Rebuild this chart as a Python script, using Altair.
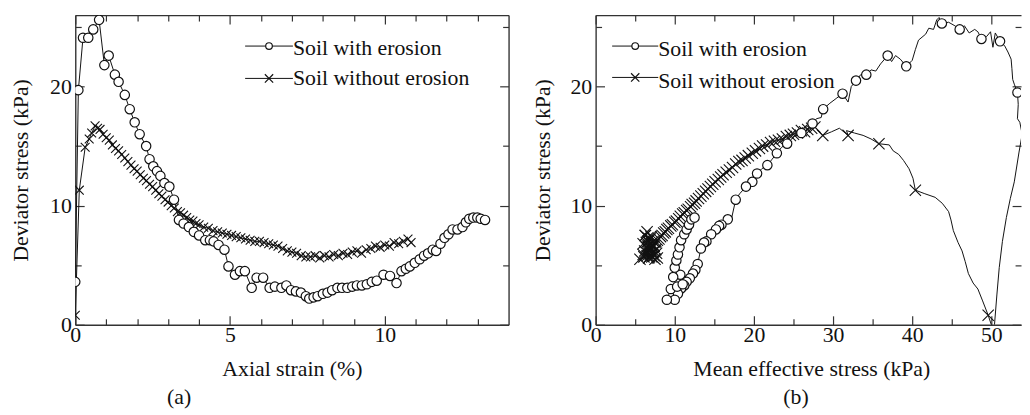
import altair as alt
import pandas as pd

# ---------------- data: panel (a) axial strain (%) vs deviator stress (kPa) ----------------
a_with = [(0.00, 3.6), (0.10, 19.7), (0.25, 24.1), (0.42, 24.1), (0.58, 24.8), (0.77, 25.6),
          (0.94, 21.8), (1.08, 22.6), (1.28, 21.0), (1.40, 20.4), (1.60, 19.3), (1.76, 18.1),
          (1.92, 17.0), (2.08, 16.0), (2.29, 15.0), (2.40, 13.9), (2.52, 13.3), (2.64, 12.9),
          (2.75, 12.5), (2.88, 11.9), (3.04, 11.6), (3.19, 10.5), (3.35, 8.8), (3.50, 8.5),
          (3.67, 8.2), (3.83, 7.8), (4.00, 7.5), (4.20, 7.1), (4.35, 7.1), (4.47, 7.0),
          (4.63, 6.7), (4.82, 6.3), (4.95, 4.9), (5.16, 4.2), (5.32, 4.5), (5.48, 4.5),
          (5.70, 3.1), (5.86, 3.95), (6.07, 3.95), (6.28, 3.1), (6.45, 3.2), (6.66, 3.1),
          (6.82, 3.3), (6.97, 2.9), (7.13, 2.8), (7.29, 2.7), (7.45, 2.4), (7.56, 2.2),
          (7.70, 2.3), (7.83, 2.4), (8.00, 2.6), (8.15, 2.7), (8.30, 2.9), (8.47, 3.1),
          (8.62, 3.1), (8.79, 3.1), (8.95, 3.2), (9.10, 3.3), (9.26, 3.3), (9.42, 3.4),
          (9.58, 3.6), (9.74, 3.7), (9.96, 4.2), (10.17, 4.1), (10.38, 3.5), (10.54, 4.5),
          (10.68, 4.7), (10.81, 4.9), (10.97, 5.2), (11.13, 5.5), (11.27, 5.8), (11.40, 6.0),
          (11.55, 6.3), (11.66, 6.2), (11.80, 6.8), (11.93, 7.3), (12.06, 7.6), (12.19, 8.0),
          (12.35, 8.0), (12.51, 8.2), (12.62, 8.6), (12.73, 8.9), (12.86, 9.0), (12.99, 9.0),
          (13.10, 8.9), (13.24, 8.8)]

a_without = [(0.00, 0.8), (0.13, 11.3), (0.32, 14.9), (0.45, 15.6), (0.53, 16.1), (0.64, 16.7),
             (0.72, 16.5), (0.80, 16.4), (0.90, 16.0), (1.00, 15.7), (1.10, 15.5), (1.20, 15.1),
             (1.30, 14.8), (1.40, 14.6), (1.50, 14.3), (1.60, 14.0), (1.70, 13.7), (1.80, 13.4),
             (1.90, 13.1), (2.00, 12.9), (2.10, 12.6), (2.20, 12.3), (2.30, 12.1), (2.40, 11.8),
             (2.50, 11.6), (2.60, 11.3), (2.70, 11.0), (2.80, 10.8), (2.90, 10.5), (3.00, 10.3),
             (3.10, 10.0), (3.20, 9.8), (3.30, 9.5), (3.40, 9.4), (3.50, 9.2), (3.60, 9.0),
             (3.70, 8.8), (3.80, 8.7), (3.90, 8.5), (4.00, 8.4), (4.15, 8.2), (4.30, 8.1),
             (4.45, 7.9), (4.60, 7.8), (4.75, 7.7), (4.90, 7.6), (5.05, 7.5), (5.20, 7.4),
             (5.35, 7.3), (5.50, 7.2), (5.65, 7.1), (5.80, 7.0), (5.95, 7.0), (6.10, 6.9),
             (6.25, 6.8), (6.40, 6.7), (6.55, 6.6), (6.70, 6.4), (6.85, 6.2), (7.00, 6.1),
             (7.15, 6.0), (7.30, 5.8), (7.45, 5.7), (7.60, 5.7), (7.75, 5.8), (7.90, 5.6),
             (8.05, 5.8), (8.20, 5.7), (8.35, 5.9), (8.50, 5.8), (8.65, 6.0), (8.80, 5.9),
             (8.95, 6.1), (9.10, 6.2), (9.25, 6.0), (9.40, 6.3), (9.55, 6.4), (9.70, 6.6),
             (9.85, 6.5), (10.00, 6.7), (10.15, 6.6), (10.30, 6.9), (10.45, 6.8), (10.60, 7.0),
             (10.75, 7.2), (10.85, 6.9)]

# ---------------- data: panel (b) mean effective stress (kPa) vs deviator stress (kPa) ----------------
b_with_line = [(50.4, 0.0), (50.7, 2.5), (51.0, 4.8), (51.4, 7.0), (51.9, 9.0), (52.4, 10.6),
               (52.9, 12.0), (53.5, 14.5), (53.9, 16.0), (53.6, 17.0), (53.3, 17.3), (53.4, 18.5),
               (53.3, 19.5), (52.9, 20.2), (52.7, 20.6), (52.6, 21.5), (52.5, 22.3), (52.1, 22.9),
               (51.7, 23.4), (51.1, 23.8), (50.5, 24.5), (50.2, 23.3), (49.9, 24.6), (49.4, 24.2),
               (48.75, 24.0), (48.3, 24.6), (47.9, 24.8), (47.2, 24.5), (46.6, 25.1), (46.0, 24.8),
               (45.4, 25.1), (44.6, 25.4), (43.75, 25.3), (43.4, 25.8), (43.1, 25.6), (42.7, 24.8),
               (42.1, 24.9), (41.7, 24.4), (40.8, 23.9), (40.4, 23.1), (40.0, 22.2), (39.25, 21.7),
               (38.5, 22.3), (37.9, 22.6), (37.4, 22.1), (36.9, 22.6), (36.0, 21.9), (35.4, 21.3),
               (34.8, 21.4), (34.2, 21.0), (33.5, 21.0), (32.9, 20.5), (32.3, 20.0), (31.9, 18.7),
               (31.2, 19.4), (30.4, 19.0), (29.6, 18.6), (28.75, 18.1), (28.5, 17.4), (27.9, 17.3),
               (27.4, 16.9), (26.6, 16.6), (26.0, 16.1), (25.2, 15.9), (24.2, 15.2), (23.5, 14.9),
               (22.9, 14.4), (22.3, 13.9), (21.7, 13.4), (21.0, 13.1), (20.4, 12.7), (19.8, 12.0),
               (19.0, 11.6), (18.2, 11.0), (17.7, 10.5), (17.1, 8.7), (16.7, 8.85), (15.9, 8.4),
               (15.6, 8.3), (15.2, 8.0), (14.6, 7.6), (14.0, 7.0), (13.7, 6.9), (13.3, 6.4),
               (12.9, 5.1), (12.6, 4.6), (12.3, 4.3), (11.9, 3.9), (11.5, 3.6), (11.2, 3.3),
               (10.8, 3.05), (10.4, 2.6), (10.0, 2.1), (9.5, 2.3), (9.0, 2.1), (9.5, 3.0),
               (10.3, 3.2), (10.6, 2.8), (11.0, 3.4), (10.7, 4.2), (9.8, 4.0), (10.0, 4.8),
               (10.2, 5.4), (10.4, 5.9), (10.6, 6.5), (10.8, 7.1), (11.2, 7.6), (11.5, 8.0),
               (11.8, 8.4), (12.1, 8.85), (12.5, 9.0)]

b_with_marks = [(53.3, 19.5), (51.1, 23.8), (48.75, 24.0), (46.0, 24.8), (43.75, 25.3), (39.25, 21.7),
                (36.9, 22.6), (34.2, 21.0), (32.9, 20.5), (31.2, 19.4), (28.75, 18.1), (27.4, 16.9),
                (26.0, 16.1), (24.2, 15.2), (22.9, 14.4), (21.7, 13.4), (20.4, 12.7), (19.8, 12.0),
                (19.0, 11.6), (17.7, 10.5), (16.7, 8.85), (15.9, 8.4), (15.6, 8.3), (15.2, 8.0),
                (14.6, 7.6), (14.0, 7.0), (13.7, 6.9), (13.3, 6.4), (12.9, 5.1), (12.6, 4.6),
                (12.3, 4.3), (11.9, 3.9), (11.5, 3.6), (11.2, 3.3), (10.8, 3.05), (10.4, 2.6),
                (10.0, 2.1), (9.0, 2.1), (9.5, 3.0), (10.3, 3.2), (11.0, 3.4), (10.7, 4.2),
                (9.8, 4.0), (10.0, 4.8), (10.2, 5.4), (10.4, 5.9), (10.6, 6.5), (10.8, 7.1),
                (11.2, 7.6), (11.5, 8.0), (11.8, 8.4), (12.1, 8.85), (12.5, 9.0)]

# early, sparsely marked part of the "without erosion" stress path
b_without_early = [(50.0, 0.0), (49.6, 0.8), (48.9, 2.0), (48.3, 3.0), (47.7, 3.5), (47.1, 4.3),
                   (46.7, 5.3), (46.3, 6.2), (45.8, 6.9), (45.2, 7.9), (44.9, 8.8), (44.6, 9.5),
                   (43.8, 10.2), (42.9, 10.7), (41.6, 11.0), (40.4, 11.3), (40.1, 12.3), (39.6, 13.1),
                   (38.9, 13.8), (38.3, 14.3), (37.6, 14.6), (37.1, 15.1), (35.8, 15.2), (34.8, 15.6),
                   (33.8, 15.9), (32.7, 16.1), (31.7, 16.3), (31.9, 15.9), (30.8, 16.5), (29.8, 16.2),
                   (28.7, 15.9)]
b_without_early_marks = [(49.6, 0.8), (40.4, 11.3), (35.8, 15.2), (31.9, 15.9), (28.7, 15.9)]
# late, densely marked part (every point carries a marker)
b_without_late = [(27.7, 16.6), (27.3, 16.5), (26.8, 16.4), (26.4, 16.2), (26.0, 16.3), (25.5, 16.1),
                  (25.0, 16.0), (24.6, 15.9), (24.1, 15.8), (23.6, 15.6), (23.1, 15.5), (22.6, 15.4),
                  (22.1, 15.3), (21.6, 15.1), (21.1, 15.0), (20.7, 14.8), (20.2, 14.6), (19.8, 14.4),
                  (19.3, 14.2), (18.9, 14.0), (18.5, 13.8), (18.1, 13.7), (17.7, 13.5), (17.3, 13.2),
                  (16.9, 13.0), (16.5, 12.8), (16.1, 12.6), (15.8, 12.4), (15.5, 12.2), (15.1, 12.0),
                  (14.8, 11.8), (14.5, 11.6), (14.2, 11.4), (13.9, 11.2), (13.6, 11.0), (13.3, 10.8),
                  (13.0, 10.6), (12.7, 10.4), (12.5, 10.2), (12.2, 10.1), (12.0, 9.9), (11.7, 9.7),
                  (11.5, 9.6), (11.2, 9.4), (11.0, 9.3), (10.7, 9.1), (10.5, 8.9), (10.2, 8.7),
                  (10.0, 8.6), (9.7, 8.4), (9.5, 8.3), (9.2, 8.1), (9.0, 8.0), (8.8, 7.8),
                  (8.6, 7.7), (8.4, 7.5), (8.2, 7.4), (8.0, 7.2), (7.8, 7.1), (7.6, 7.0),
                  (7.5, 6.9), (7.3, 6.7), (7.2, 6.6), (7.1, 6.5), (7.0, 6.4), (6.9, 6.3),
                  (6.8, 6.2), (6.7, 6.1), (6.6, 6.0), (6.5, 5.8), (6.7, 5.6), (6.9, 5.9),
                  (7.1, 5.7), (7.3, 6.1), (7.6, 6.3), (7.4, 6.6), (7.0, 6.8), (6.6, 6.6),
                  (6.4, 6.9), (6.9, 7.2), (6.6, 7.3), (6.3, 7.5), (6.6, 7.0), (6.8, 6.5),
                  (7.2, 6.0), (7.8, 5.6), (7.5, 5.5), (6.8, 5.7), (6.2, 6.2), (6.0, 5.9),
                  (7.4, 5.8), (7.7, 6.0), (5.6, 5.5), (6.1, 5.7), (6.4, 6.5), (6.0, 6.8),
                  (6.25, 7.5), (6.5, 7.8), (7.0, 7.4), (7.3, 7.0)]

series_names = ["Soil with erosion", "Soil without erosion"]
captions = ["(a)", "(b)"]
a_x_title = "Axial strain (%)"
b_x_title = "Mean effective stress (kPa)"
y_title = "Deviator stress (kPa)"
a_x_labels = [0, 5, 10]
a_x_minor = [1, 2, 3, 4, 6, 7, 8, 9, 11, 12, 13]
b_x_labels = [0, 10, 20, 30, 40, 50]
b_x_minor = [5, 15, 25, 35, 45]
y_labels = [0, 10, 20]
y_minor = [5, 15, 25]

# ---------------- styling ----------------
FONT = "Liberation Serif"
INK = "#111111"
FRAME = "#333333"
FS = 22
H = 313
YDOM = [0, 26]
CROSS = "M-1,-1L1,1M1,-1L-1,1"


def to_df(pairs):
    return pd.DataFrame({"x": [p[0] for p in pairs],
                         "y": [p[1] for p in pairs],
                         "i": list(range(len(pairs)))})


def label_x_axis(values, title, title_x):
    return alt.Axis(orient="bottom", values=values, ticks=False, tickSize=0,
                    labelFont=FONT, labelFontSize=FS, labelColor=INK, labelPadding=0,
                    labelFlush=False, labelOverlap=False,
                    domain=True, domainColor=FRAME, domainWidth=1.4, grid=False,
                    title=title, titleFont=FONT, titleFontSize=FS, titleFontWeight="normal",
                    titleColor=INK, titleX=title_x, titleY=51, titleAlign="center",
                    titleBaseline="alphabetic", titleAngle=0)


def label_y_axis(values, title, title_x):
    return alt.Axis(orient="left", values=values, ticks=False, tickSize=0,
                    labelFont=FONT, labelFontSize=FS, labelColor=INK, labelPadding=4,
                    labelFlush=False, labelOverlap=False, labelAlign="right", labelBaseline="middle",
                    domain=True, domainColor=FRAME, domainWidth=1.4, grid=False,
                    title=title, titleFont=FONT, titleFontSize=FS, titleFontWeight="normal",
                    titleColor=INK, titleX=title_x, titleY=H / 2, titleAlign="center",
                    titleBaseline="alphabetic", titleAngle=270)


def tick_axis(orient, offset, values, size, domain=False):
    return alt.Axis(orient=orient, offset=offset, values=values, labels=False, ticks=True,
                    tickSize=size, tickColor=FRAME, tickWidth=1.2, domain=domain,
                    domainColor=FRAME, domainWidth=1.4, grid=False, title=None)


def panel(W, xdom, with_line, with_marks, without_line, without_marks,
          x_labels, x_minor, x_title, x_title_x, y_title_x, cross_size,
          leg_x0, leg_x1, leg_y, leg_ty, caption, caption_x, right_frame):
    xs = alt.Scale(domain=xdom, nice=False, zero=False)
    ys = alt.Scale(domain=YDOM, nice=False, zero=False)

    def enc(ch, ax, ay):
        return ch.encode(x=alt.X("x:Q", scale=xs, axis=ax),
                         y=alt.Y("y:Q", scale=ys, axis=ay),
                         order=alt.Order("i:Q"))

    l1 = enc(alt.Chart(to_df(without_line)).mark_line(color=INK, strokeWidth=1, clip=True),
             label_x_axis(x_labels, x_title, x_title_x), label_y_axis(y_labels, y_title, y_title_x))
    l2 = enc(alt.Chart(to_df(without_marks)).mark_point(shape=CROSS, size=cross_size, stroke=INK,
                                                         strokeWidth=1.1, filled=False, opacity=1, clip=True),
             tick_axis("top", -H, x_minor, 6), tick_axis("right", -W, y_minor, 6))
    l3 = enc(alt.Chart(to_df(with_line)).mark_line(color=INK, strokeWidth=1, clip=True),
             tick_axis("top", -H, x_labels, 9), tick_axis("right", -W, y_labels, 9))
    l4 = enc(alt.Chart(to_df(with_marks)).mark_point(shape="circle", size=90, stroke=INK, fill="white",
                                                      fillOpacity=1, strokeWidth=1.2, opacity=1, clip=True),
             tick_axis("bottom", -H, x_minor, 6), tick_axis("left", -W, y_minor, 6))
    frame = pd.DataFrame({"x": xdom, "y": YDOM, "i": [0, 1]})
    l5 = enc(alt.Chart(frame).mark_point(size=0, opacity=0),
             tick_axis("bottom", -H, x_labels, 9, domain=True),
             tick_axis("left", -W, y_labels, 9, domain=right_frame))

    layers = [l1, l2, l3, l4, l5]
    mid = (leg_x0 + leg_x1) / 2
    for k, name in enumerate(series_names):
        layers.append(alt.Chart().mark_rule(color=INK, strokeWidth=1).encode(
            x=alt.value(leg_x0), x2=alt.value(leg_x1), y=alt.value(leg_y[k])))
        if k == 0:
            mk = alt.Chart().mark_point(shape="circle", size=45, stroke=INK, fill="white",
                                        fillOpacity=1, strokeWidth=1.2, opacity=1)
        else:
            mk = alt.Chart().mark_point(shape=CROSS, size=70, stroke=INK, strokeWidth=1.2,
                                        filled=False, opacity=1)
        layers.append(mk.encode(x=alt.value(mid), y=alt.value(leg_y[k])))
        layers.append(alt.Chart().mark_text(text=name, font=FONT, fontSize=FS, color=INK,
                                            align="left", baseline="alphabetic").encode(
            x=alt.value(leg_x1), y=alt.value(leg_ty[k])))
    layers.append(alt.Chart().mark_text(text=caption, font=FONT, fontSize=FS, color=INK,
                                        align="center", baseline="alphabetic").encode(
        x=alt.value(caption_x), y=alt.value(393)))

    return alt.layer(*layers).resolve_axis(x="independent", y="independent").properties(width=W, height=H)


left = panel(438, [0, 14], a_with, a_with, a_without, a_without,
             a_x_labels, a_x_minor, a_x_title, 219, -48, 80,
             171.7, 220.0, [31.3, 64.0], [40.5, 71.0], captions[0], 105, True)

right = panel(430, [0, 53.75], b_with_line, b_with_marks,
              b_without_early + b_without_late, b_without_early_marks + b_without_late,
              b_x_labels, b_x_minor, b_x_title, 218, -47, 130,
              16.7, 63.3, [31.3, 63.0], [41.5, 73.5], captions[1], 202.5, False)

chart = alt.hconcat(left, right, spacing=22).properties(
    padding={"left": 2, "top": 4, "right": 0, "bottom": 0},
    background="white",
).configure_view(strokeWidth=0)

chart.save("out.html", embed_options={"renderer": "svg", "actions": False})
